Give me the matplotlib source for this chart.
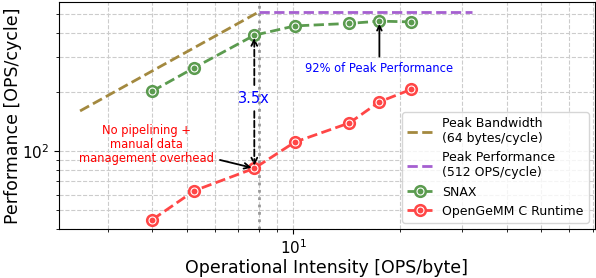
import matplotlib
matplotlib.use("Agg")
import matplotlib.pyplot as plt
from matplotlib.legend_handler import HandlerTuple

# roofline parameters
peak_bw = 64      # bytes/cycle
peak_perf = 512   # OPS/cycle
ridge = peak_perf / peak_bw

bw_x = [2.5, ridge]
perf_x = [ridge, 32]

intensity = [4.0, 5.26, 7.76, 10.1, 14.4, 17.5, 21.5]
snax_perf = [202, 266, 389, 434, 447, 459, 455]
opengemm_perf = [44.7, 62.8, 81.6, 111, 139, 178, 206]

fig, ax = plt.subplots(figsize=(5.96, 2.78), dpi=100)
fig.subplots_adjust(left=0.099, right=0.998, bottom=0.176, top=0.993)

bw_line, = ax.plot(bw_x, [peak_bw * x for x in bw_x], linestyle="--", color="#a3893f", lw=2)
perf_line, = ax.plot(perf_x, [peak_perf] * 2, linestyle="--", color="#a55fd0", lw=2)


def series(y, color):
    line, = ax.plot(intensity, y, linestyle="--", color=color, lw=2,
                    marker="o", ms=8.5, mfc=color, mec=color)
    # white inner ring on each marker
    ring, = ax.plot(intensity, y, linestyle="none", marker="o", ms=5,
                    mfc="none", mec="white", mew=0.8)
    return line, ring


snax_h = series(snax_perf, "#5b9b4f")
gemm_h = series(opengemm_perf, "#ff4646")

ax.axvline(ridge, color="#999999", linestyle=":", lw=2, zorder=1)

ax.set_xscale("log")
ax.set_yscale("log")
ax.set_xlim(2.18, 71)
ax.set_ylim(40, 575)

ax.grid(True, which="both", linestyle="--", color="#cccccc", lw=0.8)
ax.set_axisbelow(True)
ax.tick_params(axis="both", which="major", labelsize=11)
ax.yaxis.set_minor_formatter(matplotlib.ticker.NullFormatter())
ax.xaxis.set_minor_formatter(matplotlib.ticker.NullFormatter())

ax.set_xlabel("Operational Intensity [OPS/byte]", fontsize=12.5, labelpad=1)
ax.set_ylabel("Performance [OPS/cycle]", fontsize=12.5, labelpad=0)

# 3.5x speedup arrows
ax.annotate("3.5x", xy=(intensity[2], snax_perf[2]), xytext=(intensity[2], 186),
            ha="center", va="center", color="blue", fontsize=10.5,
            arrowprops=dict(arrowstyle="->", color="black", linestyle="--", lw=1.3))
ax.annotate("3.5x", xy=(intensity[2], opengemm_perf[2]), xytext=(intensity[2], 186),
            ha="center", va="center", color="none", fontsize=10.5,
            arrowprops=dict(arrowstyle="->", color="black", linestyle="--", lw=1.3))

ax.annotate("92% of Peak Performance", xy=(intensity[5], snax_perf[5]),
            xytext=(intensity[5], 263), ha="center", va="center",
            color="blue", fontsize=8.3,
            arrowprops=dict(arrowstyle="->", color="black", lw=1.3))

ax.text(3.84, 108, "No pipelining +\nmanual data\nmanagement overhead",
        ha="center", va="center", color="red", fontsize=8.3, linespacing=1.1)
ax.annotate("", xy=(intensity[2], opengemm_perf[2]), xytext=(6.1, 90.7),
            arrowprops=dict(arrowstyle="->", color="black", lw=1.3))

ax.legend([bw_line, perf_line, snax_h, gemm_h],
          ["Peak Bandwidth\n(64 bytes/cycle)", "Peak Performance\n(512 OPS/cycle)",
           "SNAX", "OpenGeMM C Runtime"],
          handler_map={tuple: HandlerTuple(ndivide=1, pad=0)},
          loc="lower right", fontsize=9)

fig.savefig("out.png", dpi=100)
